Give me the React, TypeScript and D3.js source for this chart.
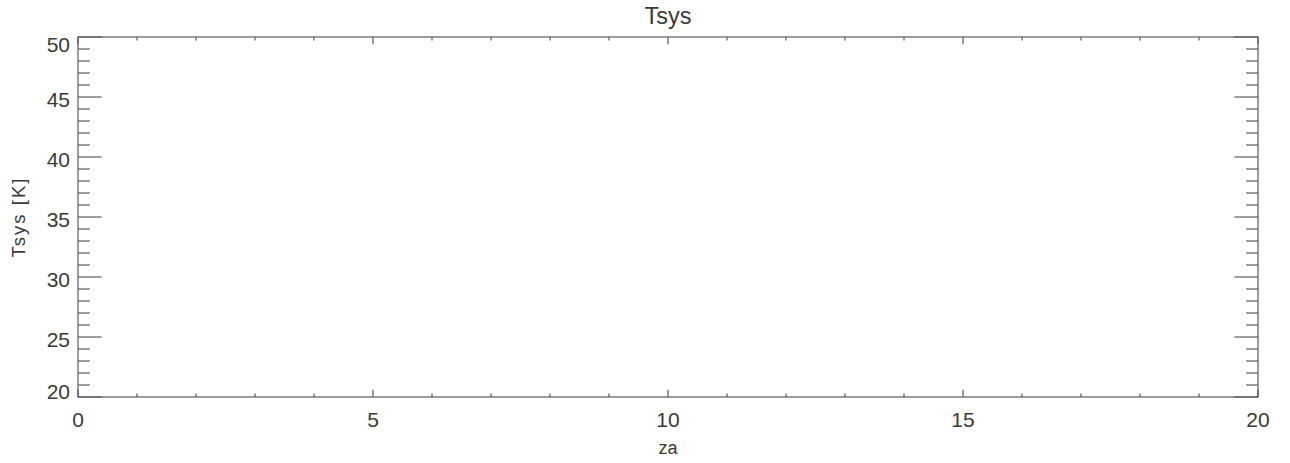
import React from "react";
import * as d3 from "d3";

const xDomain: [number, number] = [0, 20];
const yDomain: [number, number] = [20, 50];
const xMajorTicks = [0, 5, 10, 15, 20];
const yMajorTicks = [20, 25, 30, 35, 40, 45, 50];
const xMinorStep = 1;
const yMinorStep = 1;
const titleText = "Tsys";
const xLabelText = "za";
const yLabelText = "Tsys [K]";

const W = 1290;
const H = 463;
const M = { left: 78, right: 1258, top: 37, bottom: 397 };
const AX = "#5a5a5a";
const TXT = "#3a3a3a";
const FONT = "'Liberation Sans', Arial, sans-serif";

export default function App() {
  const x = d3.scaleLinear().domain(xDomain).range([M.left, M.right]);
  const y = d3.scaleLinear().domain(yDomain).range([M.bottom, M.top]);
  const pw = M.right - M.left;
  const ph = M.bottom - M.top;
  const yMajLen = 0.02 * pw;
  const xMajLen = 0.02 * ph;
  const xMinor = d3.range(xDomain[0], xDomain[1] + 0.001, xMinorStep).filter((v) => !xMajorTicks.includes(v));
  const yMinor = d3.range(yDomain[0], yDomain[1] + 0.001, yMinorStep).filter((v) => !yMajorTicks.includes(v));
  const clampY = (v: number) => Math.max(M.top + 7, Math.min(M.bottom - 6, v));

  return (
    <svg width={W} height={H} style={{ position: "absolute", left: 0, top: 0, background: "#fff" }}>
      <rect x={0} y={0} width={W} height={H} fill="#fff" />
      <rect x={M.left} y={M.top} width={pw} height={ph} fill="none" stroke={AX} strokeWidth={1.2} />
      {xMajorTicks.map((v) => (
        <g key={"xM" + v}>
          <line x1={x(v)} x2={x(v)} y1={M.bottom} y2={M.bottom - xMajLen} stroke={AX} strokeWidth={1.2} />
          <line x1={x(v)} x2={x(v)} y1={M.top} y2={M.top + xMajLen} stroke={AX} strokeWidth={1.2} />
          <text x={x(v)} y={427} textAnchor="middle" fontFamily={FONT} fontSize={21} fill={TXT}>
            {v}
          </text>
        </g>
      ))}
      {xMinor.map((v) => (
        <g key={"xm" + v}>
          <line x1={x(v)} x2={x(v)} y1={M.bottom} y2={M.bottom - xMajLen / 2} stroke={AX} strokeWidth={1.2} />
          <line x1={x(v)} x2={x(v)} y1={M.top} y2={M.top + xMajLen / 2} stroke={AX} strokeWidth={1.2} />
        </g>
      ))}
      {yMajorTicks.map((v) => (
        <g key={"yM" + v}>
          <line x1={M.left} x2={M.left + yMajLen} y1={y(v)} y2={y(v)} stroke={AX} strokeWidth={1.2} />
          <line x1={M.right} x2={M.right - yMajLen} y1={y(v)} y2={y(v)} stroke={AX} strokeWidth={1.2} />
          <text x={70} y={clampY(y(v) + 2)} dy="0.36em" textAnchor="end" fontFamily={FONT} fontSize={21} fill={TXT}>
            {v}
          </text>
        </g>
      ))}
      {yMinor.map((v) => (
        <g key={"ym" + v}>
          <line x1={M.left} x2={M.left + yMajLen / 2} y1={y(v)} y2={y(v)} stroke={AX} strokeWidth={1.2} />
          <line x1={M.right} x2={M.right - yMajLen / 2} y1={y(v)} y2={y(v)} stroke={AX} strokeWidth={1.2} />
        </g>
      ))}
      <text x={(M.left + M.right) / 2} y={24} textAnchor="middle" fontFamily={FONT} fontSize={23.5} fill={TXT}>
        {titleText}
      </text>
      <text x={(M.left + M.right) / 2} y={454} textAnchor="middle" fontFamily={FONT} fontSize={18} fill={TXT}>
        {xLabelText}
      </text>
      <text
        transform={`translate(25, ${(M.top + M.bottom) / 2}) rotate(-90)`}
        textAnchor="middle"
        fontFamily={FONT}
        fontSize={18.5}
        fill={TXT}
        letterSpacing={2}
      >
        {yLabelText}
      </text>
    </svg>
  );
}
